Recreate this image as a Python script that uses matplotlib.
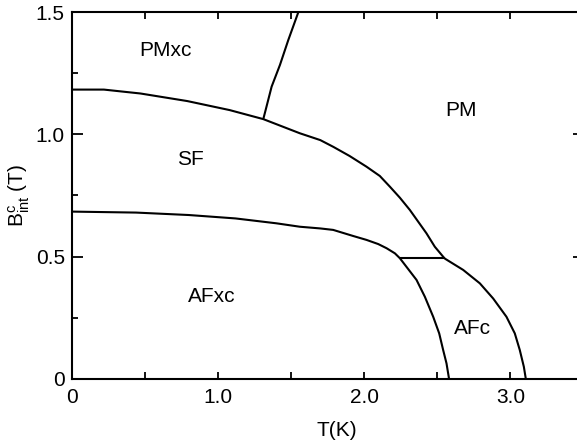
import matplotlib
matplotlib.use("Agg")
import matplotlib.pyplot as plt
from matplotlib import font_manager
from matplotlib.ticker import MultipleLocator, FuncFormatter

# phase boundaries, T in K, B in tesla
sf_pm_T = [0.0, 0.22, 0.47, 0.79, 1.08, 1.31, 1.56, 1.70, 1.79, 1.90, 2.016, 2.107,
           2.176, 2.244, 2.312, 2.369, 2.426, 2.483, 2.55]
sf_pm_B = [1.184, 1.184, 1.168, 1.137, 1.100, 1.063, 1.005, 0.977, 0.949, 0.912, 0.868, 0.830,
           0.786, 0.741, 0.691, 0.643, 0.595, 0.540, 0.492]

afc_pm_T = [2.55, 2.677, 2.791, 2.882, 2.973, 3.030, 3.064, 3.092, 3.105]
afc_pm_B = [0.492, 0.445, 0.390, 0.328, 0.253, 0.185, 0.117, 0.048, 0.0]

afxc_T = [0.0, 0.44, 0.80, 1.12, 1.40, 1.56, 1.70, 1.788, 1.925, 2.016, 2.096, 2.153, 2.21,
          2.244, 2.358, 2.415, 2.472, 2.513, 2.540, 2.563, 2.58]
afxc_B = [0.684, 0.680, 0.670, 0.656, 0.636, 0.622, 0.615, 0.609, 0.584, 0.568, 0.551, 0.534, 0.513,
          0.493, 0.404, 0.335, 0.253, 0.185, 0.117, 0.062, 0.0]

pmxc_T = [1.31, 1.326, 1.367, 1.424, 1.481, 1.549]
pmxc_B = [1.063, 1.100, 1.196, 1.285, 1.387, 1.5]

flat_T = [2.244, 2.55]
flat_B = [0.493, 0.493]

regions = ["PMxc", "SF", "PM", "AFxc", "AFc"]
region_T = [0.64, 0.81, 2.665, 0.957, 2.74]
region_B = [1.345, 0.898, 1.097, 0.335, 0.205]

names = {f.name for f in font_manager.fontManager.ttflist}
font = "Liberation Sans Narrow" if "Liberation Sans Narrow" in names else "Liberation Sans"
plt.rcParams["font.family"] = font
plt.rcParams["mathtext.fontset"] = "custom"
plt.rcParams["mathtext.rm"] = font
plt.rcParams["mathtext.it"] = font

fig = plt.figure(figsize=(5.77, 4.41), dpi=100)
ax = fig.add_axes([0.1243, 0.1417, 0.887, 0.830])

lw = 1.5
for t, b in [(sf_pm_T, sf_pm_B), (afc_pm_T, afc_pm_B), (afxc_T, afxc_B),
             (pmxc_T, pmxc_B), (flat_T, flat_B)]:
    ax.plot(t, b, color="black", linewidth=lw, solid_capstyle="butt",
            solid_joinstyle="round")

for name, t, b in zip(regions, region_T, region_B):
    ax.text(t, b, name, fontsize=15, ha="center", va="center")

ax.set_xlim(0, 3.5)
ax.set_ylim(0, 1.5)

ax.xaxis.set_major_locator(MultipleLocator(0.5))
ax.yaxis.set_major_locator(MultipleLocator(0.5))
ax.yaxis.set_minor_locator(MultipleLocator(0.25))


def xfmt(v, pos):
    if abs(v) < 1e-9:
        return "0"
    if abs(v - round(v)) < 1e-9:
        return "%.1f" % v
    return ""


def yfmt(v, pos):
    if abs(v) < 1e-9:
        return "0"
    return "%.1f" % v


ax.xaxis.set_major_formatter(FuncFormatter(xfmt))
ax.yaxis.set_major_formatter(FuncFormatter(yfmt))

for s in ax.spines.values():
    s.set_linewidth(1.5)

ax.tick_params(axis="both", which="both", direction="in", labelsize=15,
               top=True, right=True, width=1.3)
ax.tick_params(axis="x", which="major", length=5, pad=7)
ax.tick_params(axis="y", which="major", length=8, pad=5)
ax.tick_params(axis="y", which="minor", length=4.5)

ax.set_xlabel("T(K)", fontsize=15)
ax.set_ylabel(r"B$_{\rm int}^{\rm c}$ (T)", fontsize=15)
ax.xaxis.set_label_coords(0.518, -0.115)
ax.yaxis.set_label_coords(-0.078, 0.5)

fig.savefig("out.png", dpi=100)
